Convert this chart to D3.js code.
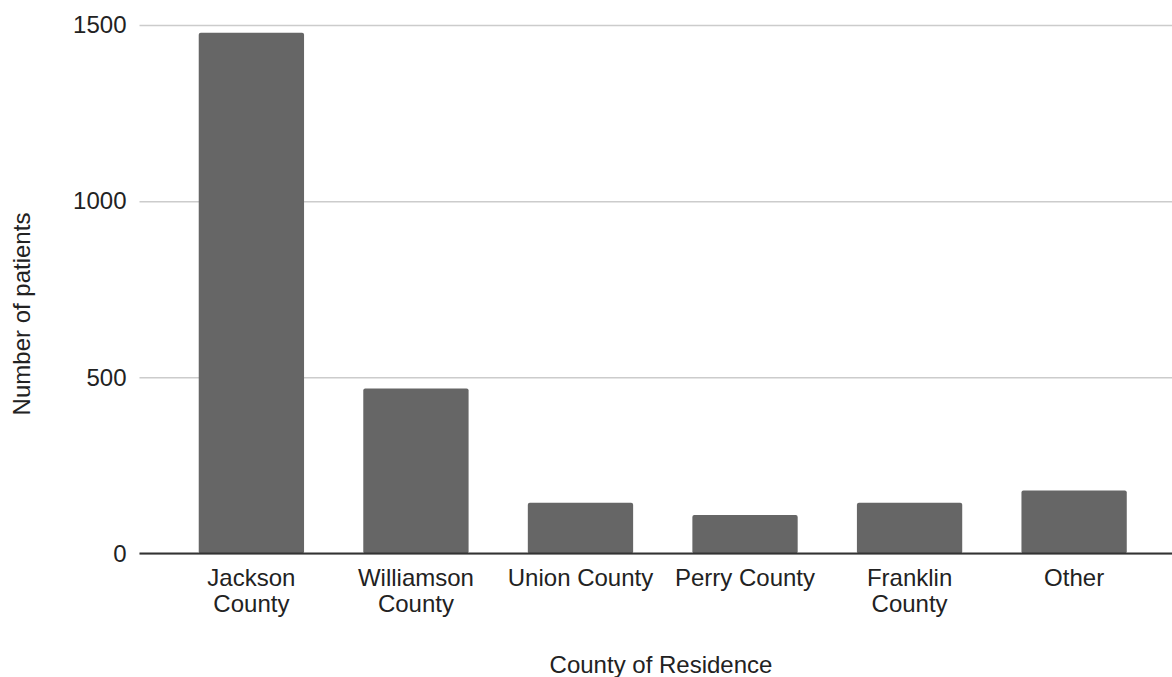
<!DOCTYPE html>
<html>
<head>
<meta charset="utf-8">
<script src="https://cdn.jsdelivr.net/npm/d3@7"></script>
<style>
  html, body { margin: 0; padding: 0; background: #fff; }
  svg { display: block; font-family: "Liberation Sans", Arial, sans-serif; }
</style>
</head>
<body>
<svg id="chart" width="1172" height="677"></svg>
<script>
const categories = ["Jackson County", "Williamson County", "Union County", "Perry County", "Franklin County", "Other"];
const patients = [1478, 468, 144, 109, 144, 179];
const yTicks = [0, 500, 1000, 1500];
const xTitle = "County of Residence";
const yTitle = "Number of patients";

const svg = d3.select("#chart");
const W = 1172, H = 677;
const plotLeft = 139.5, plotRight = 1172, plotTop = 25, plotBottom = 553.5;

const x = d3.scaleBand().domain(categories).range([plotLeft, 1186]).paddingInner(0.36).paddingOuter(0.36);
const y = d3.scaleLinear().domain([0, 1500]).range([plotBottom, plotTop]);

// gridlines + y tick labels
const yAxis = svg.append("g")
  .attr("transform", `translate(${plotLeft},0)`)
  .call(d3.axisLeft(y).tickValues(yTicks).tickSize(-(plotRight - plotLeft)).tickPadding(13).tickFormat(d3.format("d")));
yAxis.select(".domain").remove();
yAxis.selectAll(".tick line").attr("stroke", "#cccccc").attr("stroke-width", 1.5);
yAxis.selectAll(".tick text").attr("fill", "#222").style("font-size", "24px");

// bars
svg.append("g").selectAll("rect")
  .data(categories)
  .join("rect")
  .attr("x", d => x(d))
  .attr("width", x.bandwidth())
  .attr("y", (d, i) => y(patients[i]))
  .attr("height", (d, i) => plotBottom - y(patients[i]))
  .attr("rx", 2).attr("ry", 2)
  .attr("fill", "#666666");

// baseline
svg.append("line")
  .attr("x1", plotLeft).attr("x2", plotRight)
  .attr("y1", y(0)).attr("y2", y(0))
  .attr("stroke", "#333").attr("stroke-width", 2);

// x axis labels
const xAxis = svg.append("g")
  .attr("transform", `translate(0,${plotBottom})`)
  .call(d3.axisBottom(x).tickSize(0).tickPadding(15.5));
xAxis.select(".domain").remove();
xAxis.selectAll(".tick text").attr("fill", "#222").style("font-size", "24px");
const maxW = x.step();
xAxis.selectAll(".tick text").each(function(d) {
  const t = d3.select(this);
  const yPos = t.attr("y");
  const words = d.split(" ");
  t.text(null);
  let lines = [];
  let line = [];
  const probe = t.append("tspan");
  words.forEach(w => {
    const test = line.concat([w]).join(" ");
    probe.text(test);
    if (probe.node().getComputedTextLength() > maxW - 4 && line.length) {
      lines.push(line.join(" "));
      line = [w];
    } else {
      line.push(w);
    }
  });
  lines.push(line.join(" "));
  probe.remove();
  t.attr("dy", null);
  lines.forEach((ln, i) => {
    t.append("tspan").attr("x", 0).attr("y", yPos)
      .attr("dy", (0.71 + i * 1.075) + "em").text(ln);
  });
});

// axis titles
svg.append("text")
  .attr("x", 661).attr("y", 673)
  .attr("text-anchor", "middle")
  .attr("fill", "#222").style("font-size", "24px")
  .text(xTitle);

svg.append("text")
  .attr("transform", "translate(30,314) rotate(-90)")
  .attr("text-anchor", "middle")
  .attr("fill", "#222").style("font-size", "24px")
  .text(yTitle);
</script>
</body>
</html>
